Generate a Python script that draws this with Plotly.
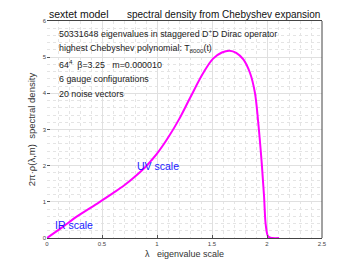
import plotly.graph_objects as go

lam = [0, 0.14, 0.28, 0.47, 0.6, 0.7, 0.79, 0.89, 0.95, 1.0, 1.1, 1.2, 1.3, 1.42, 1.51, 1.59, 1.66,
       1.72, 1.785, 1.845, 1.89, 1.92, 1.95, 1.973, 1.99, 2.012, 2.05, 2.11]
rho = [0, 0.3, 0.61, 0.98, 1.24, 1.45, 1.67, 1.95, 2.15, 2.33, 2.77, 3.28, 3.87, 4.56, 4.96, 5.13, 5.18,
       5.12, 4.94, 4.57, 4.02, 3.2, 2.15, 1.16, 0.33, 0.04, 0.0, 0.0]

x_ticks = [0, 0.5, 1, 1.5, 2, 2.5]
x_tick_labels = ["0", "0.5", "1", "1.5", "2", "2.5"]
y_ticks = [0, 1, 2, 3, 4, 5, 6]
y_tick_labels = ["0", "1", "2", "3", "4", "5", "6"]

info_lines = [
    "50331648 eigenvalues in staggered D<sup>+</sup>D Dirac operator",
    "highest Chebyshev polynomial: T<sub>8000</sub>(t)",
    "64<sup>4</sup>  β=3.25   m=0.000010",
    "6 gauge configurations",
    "20 noise vectors",
]

FONT = "Liberation Sans, Arial, sans-serif"

fig = go.Figure()
fig.add_trace(go.Scatter(x=lam, y=rho, mode="lines",
                         line=dict(color="#ff00ff", width=2, shape="spline", smoothing=1.0),
                         showlegend=False, hoverinfo="skip"))

axis_common = dict(
    showgrid=True, gridcolor="#e0e0e0", gridwidth=1, automargin=False,
    zeroline=False, ticks="inside", ticklen=3, tickcolor="#555",
    tickfont=dict(size=6, color="#444", family=FONT),
)

fig.update_xaxes(range=[0, 2.5], tickvals=x_ticks, ticktext=x_tick_labels,
                 showline=True, linecolor="#444", linewidth=1, mirror=True,
                 minor=dict(dtick=0.1, showgrid=True, griddash="dot", gridcolor="#e4e4e4", ticks=""),
                 title=dict(text="λ   eigenvalue scale", font=dict(size=9, color="#333", family=FONT), standoff=4),
                 **axis_common)
fig.update_yaxes(range=[0, 6], tickvals=y_ticks, ticktext=y_tick_labels,
                 showline=False,
                 minor=dict(dtick=0.2, showgrid=True, griddash="dot", gridcolor="#e4e4e4", ticks=""),
                 title=dict(text="2π·ρ(λ,m)  spectral density", font=dict(size=9.5, color="#333", family=FONT), standoff=5),
                 **axis_common)

annotations = [
    dict(text="sextet model", xref="paper", yref="paper", x=0, y=1 + 7 / 217.2,
         xanchor="left", yanchor="middle", showarrow=False,
         font=dict(size=10.5, color="#111", family=FONT)),
    dict(text="spectral density from Chebyshev expansion", xref="paper", yref="paper", x=1, y=1 + 7 / 217.2,
         xanchor="right", yanchor="middle", showarrow=False,
         font=dict(size=10, color="#111", family=FONT)),
    dict(text="UV scale", x=0.8, y=1.98, xref="x", yref="y", xanchor="left", yanchor="middle",
         showarrow=False, font=dict(size=10.5, color="#1a1aff", family=FONT)),
    dict(text="IR scale", x=0.055, y=0.35, xref="x", yref="y", xanchor="left", yanchor="middle",
         showarrow=False, font=dict(size=10.5, color="#1a1aff", family=FONT)),
]
for i, t in enumerate(info_lines):
    annotations.append(dict(text=t, xref="paper", yref="paper", x=0.038,
                            y=1 - (12 + i * 15.3) / 217.2,
                            xanchor="left", yanchor="middle", showarrow=False,
                            font=dict(size=8.9, color="#222", family=FONT)))

fig.update_layout(
    width=357, height=268,
    margin=dict(l=47, r=35, t=21, b=30),
    paper_bgcolor="white", plot_bgcolor="white",
    annotations=annotations,
    shapes=[dict(type="line", xref="paper", yref="paper", x0=1, x1=1, y0=0, y1=1,
                 line=dict(color="#444", width=1))],
)

fig.write_html("out.html", config={"displayModeBar": False},
               post_script="document.body.style.margin='0';")
